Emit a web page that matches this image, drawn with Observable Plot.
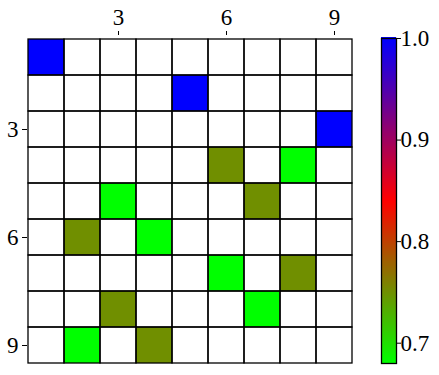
<!DOCTYPE html>
<html>
<head>
<meta charset="utf-8">
<script src="https://cdn.jsdelivr.net/npm/d3@7"></script>
<script src="https://cdn.jsdelivr.net/npm/@observablehq/plot@0.6"></script>
<style>
  body { margin: 0; background: white; }
  #chart { position: relative; width: 439px; height: 375px; }
  #chart svg { position: absolute; top: 0; }
</style>
</head>
<body>
<div id="chart"></div>
<script>
// Grid size and labels
const nRows = 9;
const nCols = 9;
const axisTicks = [3, 6, 9];
const colorTicks = [0.7, 0.8, 0.9, 1.0];
const colorDomain = [0.68, 1.0];

// Coloured cells (1-based row/column)
const cellRows   = [1, 2, 3, 4, 4, 5, 5, 6, 6, 7, 7, 8, 8, 9, 9];
const cellCols   = [1, 5, 9, 6, 8, 3, 7, 2, 4, 6, 8, 3, 7, 2, 4];
const cellValues = [1.0, 1.0, 1.0, 0.75, 0.68, 0.68, 0.75, 0.75, 0.68, 0.68, 0.75, 0.75, 0.68, 0.68, 0.75];

const cells = cellRows.map((r, i) => ({row: r, col: cellCols[i], value: cellValues[i]}));
const allCells = d3.cross(d3.range(1, nRows + 1), d3.range(1, nCols + 1)).map(([r, c]) => ({row: r, col: c}));

// reversed matplotlib "brg": green -> red -> blue
function brgR(s) {
  s = Math.max(0, Math.min(1, s));
  let r, g, b;
  if (s < 0.5) { r = 2 * s; g = 1 - 2 * s; b = 0; }
  else { r = 2 - 2 * s; g = 0; b = 2 * s - 1; }
  return d3.rgb(r * 255, g * 255, b * 255).formatHex();
}

const font = "Liberation Serif";
const fs = 23;
const colorScale = {type: "linear", domain: colorDomain, interpolate: () => brgR};

const main = Plot.plot({
  width: 360,
  height: 375,
  marginLeft: 27,
  marginRight: 8,
  marginTop: 38,
  marginBottom: 11,
  style: {fontFamily: font, fontSize: fs + "px", background: "white", color: "black"},
  x: {type: "band", domain: d3.range(1, nCols + 1), padding: 0},
  y: {type: "band", domain: d3.range(1, nRows + 1), padding: 0},
  color: colorScale,
  marks: [
    Plot.cell(allCells, {x: "col", y: "row", fill: "white"}),
    Plot.cell(cells, {x: "col", y: "row", fill: "value"}),
    Plot.cell(allCells, {x: "col", y: "row", fill: "none", stroke: "black", strokeWidth: 1.3}),
    Plot.axisX({anchor: "top", ticks: axisTicks, tickSize: 4, tickPadding: 6, dy: -4, label: null, fontFamily: font, fontSize: fs}),
    Plot.axisY({anchor: "left", ticks: axisTicks, tickSize: 5, tickPadding: 4, label: null, fontFamily: font, fontSize: fs})
  ]
});
main.style.left = "0px";

const steps = 160;
const stepSize = (colorDomain[1] - colorDomain[0]) / steps;
const ramp = d3.range(steps).map(i => ({v0: colorDomain[0] + i * stepSize, v1: colorDomain[0] + (i + 1) * stepSize}));

const bar = Plot.plot({
  width: 79,
  height: 375,
  marginLeft: 21,
  marginRight: 43,
  marginTop: 38,
  marginBottom: 12,
  style: {fontFamily: font, fontSize: fs + "px", background: "transparent", color: "black"},
  x: {domain: [0, 1], axis: null},
  y: {domain: colorDomain, axis: null},
  color: colorScale,
  marks: [
    Plot.rect(ramp, {x1: 0, x2: 1, y1: "v0", y2: "v1", fill: d => (d.v0 + d.v1) / 2, insetTop: -1, insetBottom: 0, shapeRendering: "crispEdges"}),
    Plot.frame({stroke: "black", strokeWidth: 1.3}),
    Plot.axisY({anchor: "right", ticks: colorTicks, tickFormat: d3.format(".1f"), tickSize: 4, tickPadding: 0, label: null, fontFamily: font, fontSize: fs})
  ]
});
bar.style.left = "360px";

for (const svg of [main, bar]) {
  d3.select(svg).selectAll("text")
    .attr("font-family", font)
    .style("font-family", "'Liberation Serif'")
    .style("font-size", fs + "px");
}

const chart = document.getElementById("chart");
chart.appendChild(main);
chart.appendChild(bar);
</script>
</body>
</html>
